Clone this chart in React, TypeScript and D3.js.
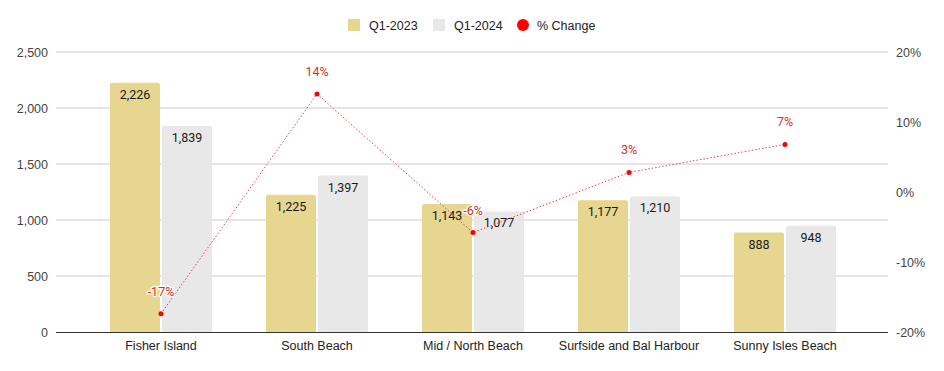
import React from "react";
import * as d3 from "d3";

const categories = ["Fisher Island", "South Beach", "Mid / North Beach", "Surfside and Bal Harbour", "Sunny Isles Beach"];
const q2023 = [2226, 1225, 1143, 1177, 888];
const q2024 = [1839, 1397, 1077, 1210, 948];
const pctChange = [-0.174, 0.14, -0.058, 0.028, 0.068];
const leftTicks = [0, 500, 1000, 1500, 2000, 2500];
const rightTicks = [-0.2, -0.1, 0, 0.1, 0.2];
const seriesNames = ["Q1-2023", "Q1-2024", "% Change"];

const W = 944, H = 371;
const gridL = 56, gridR = 888, plotL = 83, plotR = 863, top = 52, bottom = 332;
const c2023 = "#e6d68f", c2024 = "#e8e8e8", red = "#ff0000", lineRed = "#e0424a", labelRed = "#d93025";

export default function App() {
  const x = d3.scaleBand<string>().domain(categories).range([plotL, plotR]);
  const inner = d3.scaleBand<string>().domain(["a", "b"]).range([-51, 51]).paddingInner(0.04);
  const yL = d3.scaleLinear().domain([0, 2500]).range([bottom, top]);
  const yR = d3.scaleLinear().domain([-0.2, 0.2]).range([bottom, top]);
  const fmt = d3.format(",");
  const pctFmt = (v: number) => `${Math.round(v * 100)}%`;
  const cx = (c: string) => (x(c) as number) + x.bandwidth() / 2;
  const line = d3.line<number>().x((_, i) => cx(categories[i])).y((d) => yR(d));
  const axisFont = "'Liberation Sans', Arial, sans-serif";
  const labelFont = "Roboto, sans-serif";

  const barPath = (x0: number, y0: number, w: number, h: number, r: number) =>
    `M${x0},${y0 + h}V${y0 + r}Q${x0},${y0} ${x0 + r},${y0}H${x0 + w - r}Q${x0 + w},${y0} ${x0 + w},${y0 + r}V${y0 + h}Z`;

  return (
    <svg width={W} height={H} style={{ display: "block", position: "absolute", left: 0, top: 0 }}>
      <rect width={W} height={H} fill="#fff" />
      {/* legend */}
      <g fontFamily={axisFont} fontSize={12.5} fill="#222">
        <rect x={348} y={19} width={12} height={12} fill={c2023} />
        <text x={369} y={29.5}>{seriesNames[0]}</text>
        <rect x={433} y={19} width={12} height={12} fill={c2024} />
        <text x={454} y={29.5}>{seriesNames[1]}</text>
        <circle cx={523} cy={25} r={6} fill={red} />
        <text x={537} y={29.5}>{seriesNames[2]}</text>
      </g>
      {/* grid */}
      {leftTicks.filter((t) => t !== 0).map((t) => (
        <line key={t} x1={gridL} x2={gridR} y1={yL(t)} y2={yL(t)} stroke="#cccccc" strokeWidth={1} />
      ))}
      {/* left axis labels */}
      <g fontFamily={axisFont} fontSize={12.5} fill="#444" textAnchor="end">
        {leftTicks.map((t) => (
          <text key={t} x={48} y={yL(t) + 4.5}>{fmt(t)}</text>
        ))}
      </g>
      <g fontFamily={axisFont} fontSize={12.5} fill="#444" textAnchor="start">
        {rightTicks.map((t) => (
          <text key={t} x={896} y={yR(t) + 4.5}>{`${Math.round(t * 100)}%`}</text>
        ))}
      </g>
      {/* bars */}
      {categories.map((c, i) => {
        const c0 = cx(c);
        const xa = c0 + (inner("a") as number);
        const xb = c0 + (inner("b") as number);
        const bw = inner.bandwidth();
        return (
          <g key={c}>
            <path d={barPath(xa, yL(q2023[i]), bw, bottom - yL(q2023[i]), 2)} fill={c2023} />
            <path d={barPath(xb, yL(q2024[i]), bw, bottom - yL(q2024[i]), 2)} fill={c2024} />
          </g>
        );
      })}
      {/* baseline */}
      <line x1={gridL} x2={gridR} y1={bottom + 0.5} y2={bottom + 0.5} stroke="#333" strokeWidth={1} />
      {/* bar labels */}
      <g fontFamily={labelFont} fontSize={12.5} fill="#1a1a1a" textAnchor="middle">
        {categories.map((c, i) => {
          const c0 = cx(c);
          const bw = inner.bandwidth();
          const xa = c0 + (inner("a") as number) + bw / 2;
          const xb = c0 + (inner("b") as number) + bw / 2;
          return (
            <g key={c}>
              <text x={xa} y={yL(q2023[i]) + 16}>{fmt(q2023[i])}</text>
              <text x={xb} y={yL(q2024[i]) + 16}>{fmt(q2024[i])}</text>
            </g>
          );
        })}
      </g>
      {/* x labels */}
      <g fontFamily={axisFont} fontSize={12.5} fill="#222" textAnchor="middle">
        {categories.map((c) => (
          <text key={c} x={cx(c)} y={349.5}>{c}</text>
        ))}
      </g>
      {/* line */}
      <path d={line(pctChange) as string} fill="none" stroke={lineRed} strokeWidth={1} strokeDasharray="1.5,2" />
      {pctChange.map((v, i) => (
        <circle key={i} cx={cx(categories[i])} cy={yR(v)} r={2.5} fill={red} />
      ))}
      <g fontFamily={labelFont} fontSize={12.5} fill={labelRed} textAnchor="middle">
        {pctChange.map((v, i) => (
          <text key={i} x={cx(categories[i])} y={yR(v) - 18} stroke="#fff" strokeWidth={3} strokeOpacity={0.8} paintOrder="stroke" strokeLinejoin="round">{pctFmt(v)}</text>
        ))}
      </g>
    </svg>
  );
}
